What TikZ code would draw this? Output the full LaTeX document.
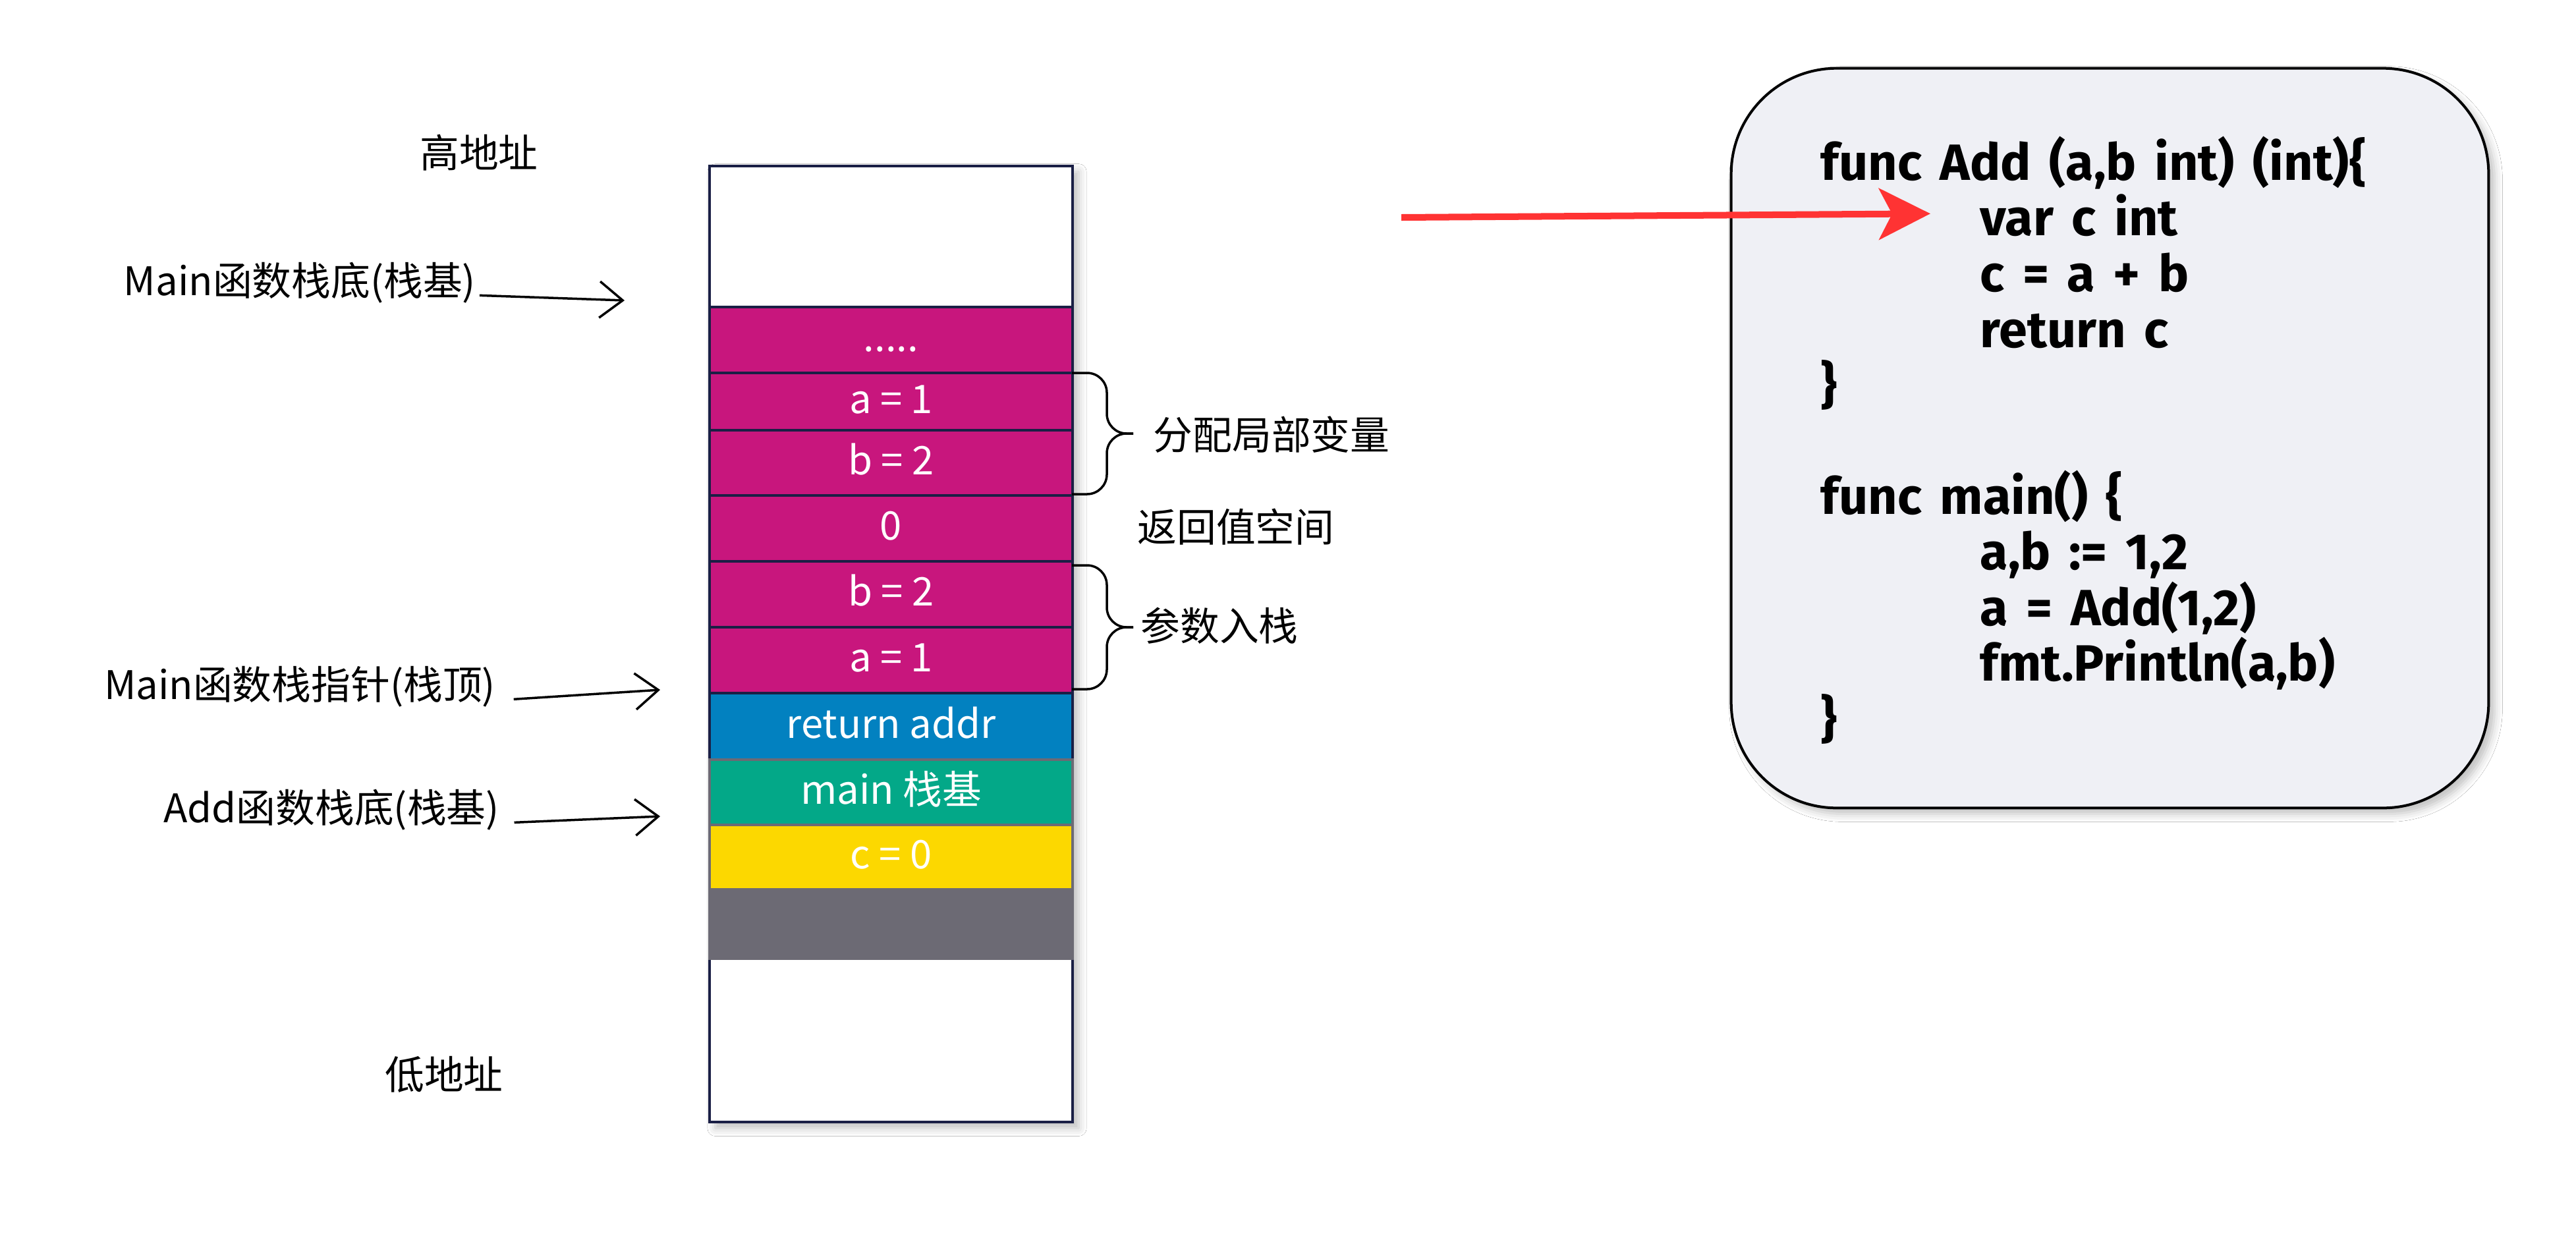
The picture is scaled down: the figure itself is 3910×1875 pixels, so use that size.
\documentclass[tikz,border=0pt]{standalone}
\usepackage{fontspec}
\setmainfont{Noto Sans CJK SC}
\newfontfamily\codefont[WordSpace=1.5]{Fira Sans}
\usetikzlibrary{arrows.meta,shadows.blur}
\definecolor{mag}{RGB}{200,22,125}
\definecolor{navy}{RGB}{26,31,69}
\definecolor{rblue}{RGB}{2,129,192}
\definecolor{rgreen}{RGB}{3,168,136}
\definecolor{ryellow}{RGB}{252,216,0}
\definecolor{rgray}{RGB}{108,106,116}
\definecolor{codebg}{RGB}{239,240,245}
\definecolor{rred}{RGB}{255,51,51}
\begin{document}
\begin{tikzpicture}[x=0.01cm,y=-0.01cm,
  shad/.style={blur shadow={shadow xshift=0.09cm,shadow yshift=-0.09cm,shadow blur radius=0.12cm,shadow opacity=25}},
  cellbox/.style={rectangle,draw=navy,line width=0.04cm,minimum width=5.51cm,inner sep=0pt,
    text=white,font=\fontsize{17}{20}\selectfont,text height=0.45cm,text depth=0.1cm},
  magcell/.style={cellbox,fill=mag},
  lbl/.style={text=black,font=\fontsize{17}{20}\selectfont,inner sep=0pt},
  arr/.style={-{Straight Barb[length=0.35cm,width=0.55cm]},line width=0.035cm,black},
  bracepath/.style={draw=black,line width=0.035cm,rounded corners=0.3cm},
  codeline/.style={anchor=base west,inner sep=0pt,font=\codefont\bfseries\fontsize{22}{26}\selectfont},
  redarrow/.style={draw=rred,line width=0.1cm,-{Stealth[length=0.78cm,width=0.78cm,inset=0.2cm]}}]
\useasboundingbox (0,0) rectangle (3910,1875);
\fill[white] (0,0) rectangle (3910,1875);

% stack
\node[rectangle,draw=navy,line width=0.04cm,fill=white,minimum width=5.51cm,minimum height=14.51cm,inner sep=0pt,shad] (stack) at (1352.5,977.5) {};
\node[magcell,minimum height=1.00cm] (dots) at (1352.5,516) {.....};
\node[magcell,minimum height=0.87cm] (a1) at (1352.5,609.5) {a = 1};
\node[magcell,minimum height=0.99cm] (b2) at (1352.5,702.5) {b = 2};
\node[magcell,minimum height=1.00cm] (zero) at (1352.5,802) {0};
\node[magcell,minimum height=1.00cm] (b2b) at (1352.5,902) {b = 2};
\node[magcell,minimum height=1.00cm] (a1b) at (1352.5,1002) {a = 1};
\node[cellbox,fill=rblue,minimum height=1.01cm] (ret) at (1352.5,1102.5) {return addr};
\node[cellbox,draw=rgray,fill=rgreen,minimum height=0.99cm] (mainb) at (1352.5,1202.5) {main 栈基};
\node[cellbox,draw=rgray,fill=ryellow,minimum height=0.98cm] (c0) at (1352.5,1301) {c = 0};
\node[cellbox,draw=rgray,fill=rgray,minimum height=1.05cm] (grayrow) at (1352.5,1402.5) {};

% left labels
\node[lbl] (high) at (727,232) {高地址};
\node[lbl] (low) at (674,1631) {低地址};
\node[lbl] (mbase) at (455,429) {Main函数栈底(栈基)};
\node[lbl] (mtop) at (455,1042) {Main函数栈指针(栈顶)};
\node[lbl] (abase) at (503,1229) {Add函数栈底(栈基)};
\coordinate (p1) at (948,456);
\coordinate (p2) at (1002,1047);
\coordinate (p3) at (1002,1239);
\draw[arr] ([xshift=0.05cm]mbase.base east) -- (p1);
\draw[arr] ([xshift=0.27cm]mtop.base east) -- (p2);
\draw[arr] ([xshift=0.22cm]abase.base east) -- (p3);

% braces
\draw[bracepath] (1627,566) -- (1680,566) -- (1680,658) -- (1720,658);
\draw[bracepath] (1627,750) -- (1680,750) -- (1680,658) -- (1720,658);
\draw[bracepath] (1627,858) -- (1680,858) -- (1680,952) -- (1720,952);
\draw[bracepath] (1627,1046) -- (1680,1046) -- (1680,952) -- (1720,952);
\node[lbl] (alloc) at (1930,660) {分配局部变量};
\node[lbl] (retval) at (1876,800) {返回值空间};
\node[lbl] (params) at (1851,950) {参数入栈};

% code box
\node[rectangle,draw=black,line width=0.04cm,fill=codebg,rounded corners=1.6cm,minimum width=11.49cm,minimum height=11.22cm,inner sep=0pt,shad] (code) at (3202.5,665) {};
\node[codeline] (c1) at (2763,273) {func Add (a,b int) (int)\{};
\node[codeline] (c2) at (3005,357) {var c int};
\node[codeline] (c3) at (3005,442) {c = a + b};
\node[codeline] (c4) at (3005,527) {return c};
\node[codeline] (c5) at (2763,611) {\}};
\node[codeline] (c6) at (2763,780) {func main() \{};
\node[codeline] (c7) at (3005,864) {a,b := 1,2};
\node[codeline] (c8) at (3005,949) {a = Add(1,2)};
\node[codeline] (c9) at (3005,1033) {fmt.Println(a,b)};
\node[codeline] (c10) at (2763,1118) {\}};

% red arrow
\coordinate (rs) at (2127,330);
\draw[redarrow] (rs) -- ([xshift=-0.75cm,yshift=0.02cm]c2.west);
\end{tikzpicture}
\end{document}
